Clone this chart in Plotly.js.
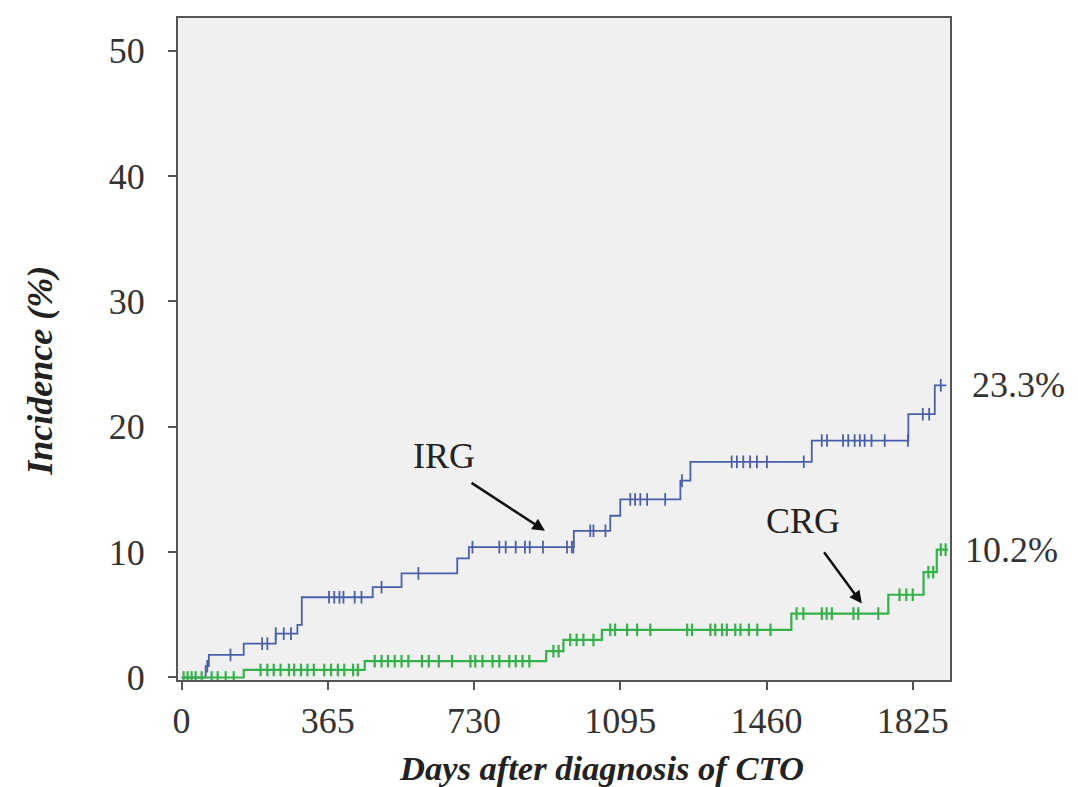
<!DOCTYPE html>
<html>
<head>
<meta charset="utf-8">
<script src="https://cdn.plot.ly/plotly-3.0.1.min.js"></script>
<style>html,body{margin:0;padding:0;background:#fff;}#chart{width:1078px;height:787px;}</style>
</head>
<body>
<div id="chart"></div>
<script>
// IRG step curve (days, cumulative incidence %)
const irgDays = [0, 60, 68, 155, 235, 289, 300, 477, 549, 688, 717, 979, 1070, 1095, 1245, 1270, 1573, 1814, 1880, 1909];
const irgPct  = [0, 0.9, 1.8, 2.7, 3.5, 4.2, 6.4, 7.2, 8.3, 9.5, 10.4, 11.7, 12.9, 14.2, 15.7, 17.2, 18.9, 21.0, 23.3, 23.3];
// CRG step curve
const crgDays = [0, 155, 457, 910, 953, 1049, 1522, 1764, 1852, 1885, 1913];
const crgPct  = [0, 0.6, 1.3, 2.1, 3.0, 3.8, 5.1, 6.6, 8.4, 10.2, 10.2];
// censored observations (days)
const irgCensor = [64, 122, 201, 214, 235, 255, 273, 368, 381, 394, 404, 432, 449, 499, 591, 726, 793, 809, 834, 857, 869, 902,
  962, 974, 978, 1020, 1028, 1058, 1120, 1132, 1145, 1162, 1207, 1249, 1373, 1386, 1402, 1419, 1436, 1461, 1553, 1598, 1611,
  1651, 1664, 1680, 1693, 1705, 1722, 1755, 1813, 1850, 1866, 1895];
const crgCensor = [5, 15, 25, 35, 50, 75, 90, 110, 130, 197, 214, 230, 247, 268, 281, 298, 314, 330, 356, 373, 390, 406, 428, 440,
  482, 499, 515, 532, 549, 566, 600, 617, 642, 675, 721, 733, 751, 776, 793, 818, 834, 851, 868, 928, 941, 970, 986, 1003, 1028,
  1070, 1082, 1112, 1137, 1170, 1262, 1274, 1320, 1332, 1349, 1361, 1382, 1395, 1416, 1437, 1470, 1535, 1552, 1598, 1610, 1623,
  1677, 1689, 1739, 1792, 1809, 1825, 1864, 1876, 1895, 1907];
const xTicks = [0, 365, 730, 1095, 1460, 1825];
const yTicks = [0, 10, 20, 30, 40, 50];
const endLabels = ["23.3%", "10.2%"];
const groupLabels = ["IRG", "CRG"];
const xTitle = "Days after diagnosis of CTO";
const yTitle = "Incidence (%)";

function stepAt(days, vals, d) {
  let v = vals[0];
  for (let i = 0; i < days.length; i++) { if (days[i] <= d) v = vals[i]; }
  return v;
}

const blue = "#4a5fab";
const green = "#35b24a";
const serif = "Liberation Serif, Times New Roman, serif";

const traces = [
  {x: irgDays, y: irgPct, mode: "lines", line: {shape: "hv", color: blue, width: 1.8}, hoverinfo: "skip"},
  {x: crgDays, y: crgPct, mode: "lines", line: {shape: "hv", color: green, width: 2.2}, hoverinfo: "skip"},
  {x: irgCensor, y: irgCensor.map(d => stepAt(irgDays, irgPct, d)), mode: "markers",
   marker: {symbol: "line-ns-open", size: 9, color: blue, line: {color: blue, width: 1.8}}, hoverinfo: "skip"},
  {x: crgCensor, y: crgCensor.map(d => stepAt(crgDays, crgPct, d)), mode: "markers",
   marker: {symbol: "line-ns-open", size: 9, color: green, line: {color: green, width: 2.2}}, hoverinfo: "skip"}
];

const axisCommon = {
  showgrid: false, zeroline: false, showline: true, mirror: true,
  linecolor: "#555", linewidth: 2, ticks: "outside", ticklen: 8, tickwidth: 2, tickcolor: "#555",
  tickfont: {family: serif, size: 36, color: "#333"}
};

const layout = {
  width: 1078, height: 787,
  margin: {l: 178, r: 128, t: 18, b: 107},
  paper_bgcolor: "#ffffff",
  plot_bgcolor: "#f0f0f0",
  showlegend: false,
  font: {family: serif, color: "#333"},
  xaxis: Object.assign({range: [-9, 1918], tickvals: xTicks, ticktext: xTicks.map(String)}, axisCommon),
  yaxis: Object.assign({range: [-0.2, 52.6], tickvals: yTicks, ticktext: yTicks.map(String), ticklabelstandoff: 16}, axisCommon),
  annotations: [
    {x: 0.548, y: -0.133, xref: "paper", yref: "paper", xanchor: "center", yanchor: "middle",
     text: "<b><i>" + xTitle + "</i></b>", showarrow: false, font: {family: serif, size: 34.5, color: "#222"}},
    {x: -0.179, y: 0.467, xref: "paper", yref: "paper", xanchor: "center", yanchor: "middle",
     text: "<b><i>" + yTitle + "</i></b>", textangle: -90, showarrow: false, font: {family: serif, size: 36, color: "#222"}},
    {x: 654, y: 17.7, xref: "x", yref: "y", text: groupLabels[0], showarrow: false, font: {family: serif, size: 36, color: "#222"}},
    {x: 907, y: 11.7, xref: "x", yref: "y", ax: 720, ay: 15.6, axref: "x", ayref: "y", text: "", showarrow: true,
     arrowhead: 2, arrowsize: 1, arrowwidth: 2.5, arrowcolor: "#111"},
    {x: 1550, y: 12.5, xref: "x", yref: "y", text: groupLabels[1], showarrow: false, font: {family: serif, size: 36, color: "#222"}},
    {x: 1698, y: 5.9, xref: "x", yref: "y", ax: 1601, ay: 10.1, axref: "x", ayref: "y", text: "", showarrow: true,
     arrowhead: 2, arrowsize: 1, arrowwidth: 2.5, arrowcolor: "#111"},
    {x: 1.026, y: irgPct[irgPct.length - 1], xref: "paper", yref: "y", xanchor: "left", text: endLabels[0], showarrow: false,
     font: {family: serif, size: 36, color: "#333"}},
    {x: 1.017, y: crgPct[crgPct.length - 1], xref: "paper", yref: "y", xanchor: "left", text: endLabels[1], showarrow: false,
     font: {family: serif, size: 36, color: "#333"}}
  ]
};

Plotly.newPlot("chart", traces, layout, {displayModeBar: false, staticPlot: true});
</script>
</body>
</html>
